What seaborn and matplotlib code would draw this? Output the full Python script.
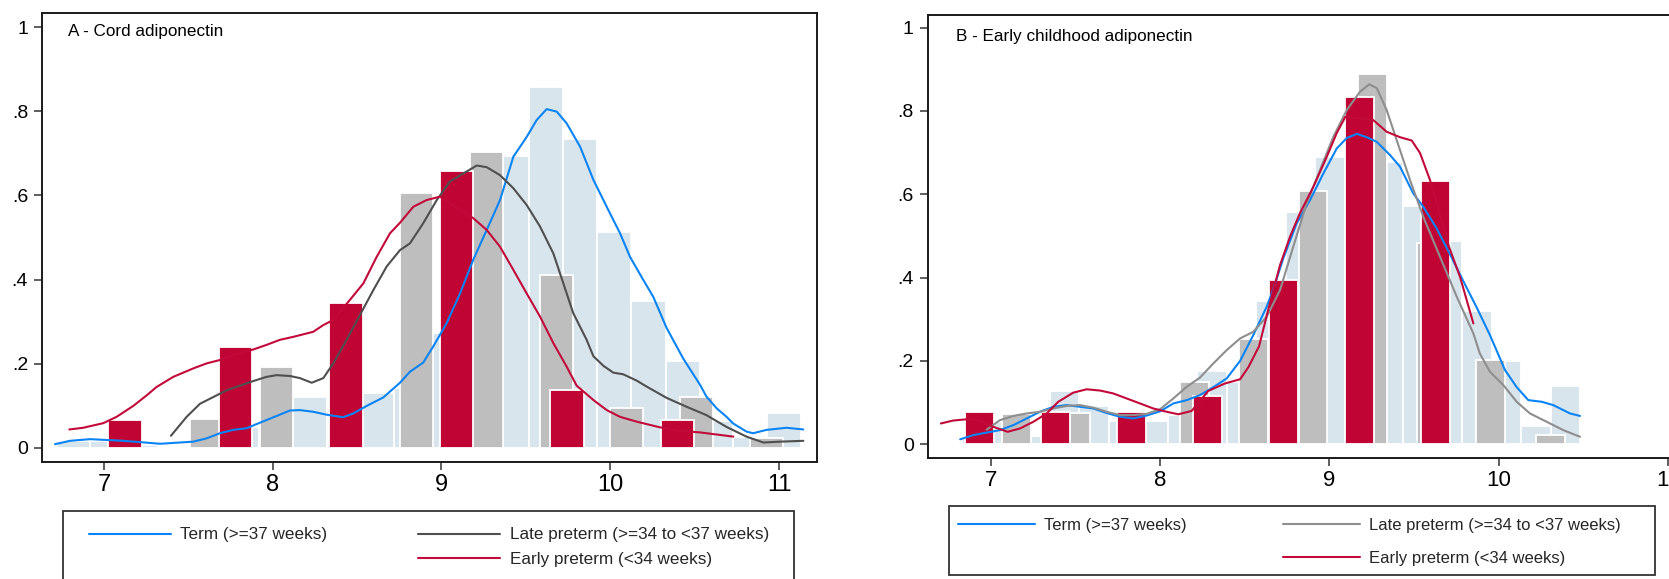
import numpy as np
import pandas as pd
import matplotlib
matplotlib.use("Agg")
import matplotlib.pyplot as plt
from matplotlib.lines import Line2D
from matplotlib.patches import Rectangle
import seaborn as sns

# ---------------------------------------------------------------- data
# Panel A - cord adiponectin: histogram bar centres and densities
a_term_x = [6.82, 7.02, 7.22, 7.42, 7.62, 7.82, 8.02, 8.22, 8.42, 8.62, 8.82,
            9.02, 9.22, 9.42, 9.62, 9.82, 10.02, 10.23, 10.43, 10.63, 10.83, 11.03]
a_term_y = [0.017, 0.017, 0.008, 0.0, 0.03, 0.05, 0.07, 0.122, 0.08, 0.131, 0.142,
            0.274, 0.45, 0.694, 0.857, 0.733, 0.513, 0.35, 0.207, 0.065, 0.025, 0.084]
a_late_x = [7.608, 8.023, 8.438, 8.852, 9.267, 9.682, 10.097, 10.511, 10.926]
a_late_y = [0.07, 0.192, 0.25, 0.605, 0.703, 0.412, 0.094, 0.12, 0.023]
a_early_x = [7.125, 7.78, 8.433, 9.089, 9.743, 10.398]
a_early_y = [0.0665, 0.24, 0.344, 0.658, 0.138, 0.067]

# Panel A kernel density curves
a_kterm_x = [6.71, 6.799, 6.917, 7.016, 7.114, 7.213, 7.332, 7.45, 7.529, 7.609, 7.687,
             7.766, 7.846, 7.924, 8.023, 8.102, 8.161, 8.24, 8.32, 8.418, 8.477, 8.557,
             8.655, 8.754, 8.813, 8.892, 8.951, 9.03, 9.11, 9.188, 9.268, 9.347, 9.426,
             9.505, 9.564, 9.623, 9.683, 9.742, 9.821, 9.9, 9.979, 10.058, 10.117, 10.196,
             10.255, 10.334, 10.433, 10.532, 10.57, 10.631, 10.689, 10.729, 10.807,
             10.846, 10.926, 11.044, 11.144]
a_kterm_y = [0.009, 0.017, 0.021, 0.019, 0.017, 0.014, 0.010, 0.013, 0.015, 0.023, 0.035,
             0.043, 0.047, 0.060, 0.076, 0.089, 0.090, 0.086, 0.079, 0.073, 0.082, 0.100,
             0.120, 0.155, 0.181, 0.203, 0.241, 0.296, 0.367, 0.447, 0.518, 0.589, 0.692,
             0.739, 0.779, 0.805, 0.799, 0.771, 0.716, 0.637, 0.573, 0.510, 0.454, 0.399,
             0.359, 0.285, 0.212, 0.150, 0.122, 0.094, 0.074, 0.058, 0.039,
             0.035, 0.043, 0.048, 0.044]
a_klate_x = [7.397, 7.49, 7.569, 7.648, 7.727, 7.806, 7.885, 7.964, 8.023, 8.102, 8.161,
             8.231, 8.3, 8.359, 8.438, 8.517, 8.596, 8.675, 8.754, 8.813, 8.892, 8.972,
             9.05, 9.129, 9.209, 9.268, 9.347, 9.426, 9.505, 9.584, 9.663, 9.722, 9.781,
             9.86, 9.9, 9.96, 10.018, 10.077, 10.157, 10.215, 10.334, 10.452, 10.57,
             10.689, 10.807, 10.907, 11.006, 11.144]
a_klate_y = [0.029, 0.074, 0.105, 0.121, 0.137, 0.148, 0.159, 0.169, 0.173, 0.171, 0.166,
             0.155, 0.166, 0.201, 0.257, 0.316, 0.375, 0.431, 0.470, 0.486, 0.534, 0.589,
             0.633, 0.652, 0.671, 0.667, 0.648, 0.617, 0.577, 0.526, 0.462, 0.391, 0.320,
             0.257, 0.218, 0.195, 0.179, 0.175, 0.160, 0.146, 0.119, 0.098, 0.078,
             0.050, 0.027, 0.013, 0.015, 0.017]
a_kearly_x = [6.795, 6.877, 6.996, 7.075, 7.174, 7.253, 7.312, 7.411, 7.529, 7.609, 7.687,
              7.766, 7.885, 7.964, 8.043, 8.122, 8.24, 8.3, 8.359, 8.458, 8.537, 8.616,
              8.695, 8.754, 8.833, 8.912, 8.991, 9.188, 9.268, 9.347, 9.426, 9.505, 9.584,
              9.663, 9.742, 9.801, 9.9, 9.979, 10.058, 10.157, 10.295, 10.433, 10.532,
              10.729]
a_kearly_y = [0.044, 0.048, 0.059, 0.074, 0.100, 0.125, 0.145, 0.169, 0.189, 0.201, 0.209,
              0.221, 0.234, 0.245, 0.257, 0.264, 0.276, 0.292, 0.304, 0.352, 0.391, 0.454,
              0.510, 0.535, 0.573, 0.589, 0.597, 0.546, 0.518, 0.478, 0.423, 0.367, 0.312,
              0.249, 0.193, 0.148, 0.114, 0.090, 0.074, 0.0625, 0.049, 0.040, 0.037,
              0.027]

# Panel B - early childhood adiponectin: histogram bar centres and densities
b_term_x = [6.915, 7.089, 7.263, 7.437, 7.611, 7.785, 7.959, 8.133, 8.307, 8.481, 8.655,
            8.829, 9.003, 9.177, 9.351, 9.525, 9.699, 9.873, 10.047, 10.221, 10.395]
b_term_y = [0.015, 0.054, 0.02, 0.128, 0.093, 0.057, 0.057, 0.07, 0.176, 0.15, 0.345,
            0.558, 0.69, 0.75, 0.678, 0.572, 0.487, 0.32, 0.2, 0.044, 0.14]
b_late_x = [7.152, 7.502, 7.853, 8.203, 8.553, 8.904, 9.254, 9.604, 9.954, 10.305]
b_late_y = [0.073, 0.074, 0.0, 0.15, 0.252, 0.609, 0.889, 0.484, 0.202, 0.022]
b_early_x = [6.933, 7.382, 7.831, 8.28, 8.729, 9.178, 9.627]
b_early_y = [0.077, 0.077, 0.077, 0.117, 0.394, 0.833, 0.633]

# Panel B kernel density curves
b_kterm_x = [6.82, 6.897, 6.976, 7.055, 7.134, 7.213, 7.291, 7.37, 7.449, 7.527, 7.606,
             7.685, 7.764, 7.842, 7.921, 8.0, 8.079, 8.158, 8.236, 8.315, 8.394, 8.473,
             8.551, 8.63, 8.669, 8.728, 8.807, 8.886, 8.965, 9.044, 9.103, 9.162, 9.221,
             9.28, 9.359, 9.418, 9.496, 9.555, 9.634, 9.713, 9.791, 9.871, 9.949, 10.038,
             10.107, 10.175, 10.255, 10.323, 10.422, 10.481]
b_kterm_y = [0.012, 0.022, 0.028, 0.034, 0.046, 0.062, 0.078, 0.090, 0.094, 0.090, 0.086,
             0.075, 0.066, 0.062, 0.069, 0.079, 0.098, 0.106, 0.118, 0.137, 0.158, 0.200,
             0.262, 0.330, 0.372, 0.446, 0.530, 0.586, 0.650, 0.710, 0.735, 0.745, 0.737,
             0.726, 0.694, 0.666, 0.602, 0.570, 0.518, 0.456, 0.392, 0.328, 0.262, 0.178,
             0.137, 0.106, 0.102, 0.094, 0.074, 0.068]
b_klate_x = [6.976, 7.055, 7.134, 7.213, 7.291, 7.37, 7.449, 7.527, 7.606, 7.685, 7.764,
             7.842, 7.921, 8.0, 8.079, 8.158, 8.236, 8.315, 8.394, 8.473, 8.551, 8.63,
             8.709, 8.787, 8.867, 8.945, 9.024, 9.103, 9.181, 9.236, 9.28, 9.339, 9.398,
             9.477, 9.555, 9.654, 9.753, 9.851, 9.889, 9.949, 10.028, 10.107, 10.185,
             10.284, 10.382, 10.481]
b_klate_y = [0.035, 0.058, 0.068, 0.074, 0.078, 0.086, 0.092, 0.094, 0.088, 0.078, 0.070,
             0.070, 0.073, 0.084, 0.110, 0.138, 0.160, 0.194, 0.226, 0.254, 0.270, 0.306,
             0.370, 0.474, 0.579, 0.658, 0.738, 0.802, 0.846, 0.864, 0.855, 0.802, 0.730,
             0.634, 0.546, 0.450, 0.354, 0.266, 0.218, 0.174, 0.142, 0.102, 0.074,
             0.054, 0.034, 0.018]
b_kearly_x = [6.706, 6.779, 6.858, 6.937, 7.015, 7.1, 7.173, 7.252, 7.331, 7.399, 7.488,
              7.567, 7.646, 7.724, 7.803, 7.882, 7.96, 8.04, 8.108, 8.187, 8.285, 8.384,
              8.473, 8.522, 8.585, 8.65, 8.709, 8.768, 8.827, 8.906, 8.985, 9.044, 9.095,
              9.26, 9.339, 9.418, 9.487, 9.536, 9.595, 9.707, 9.772, 9.851]
b_kearly_y = [0.050, 0.057, 0.060, 0.057, 0.042, 0.030, 0.038, 0.054, 0.074, 0.102, 0.124,
              0.132, 0.129, 0.122, 0.110, 0.098, 0.086, 0.078, 0.072, 0.080, 0.128, 0.146,
              0.156, 0.185, 0.235, 0.340, 0.430, 0.498, 0.555, 0.618, 0.690, 0.747, 0.786,
              0.778, 0.750, 0.737, 0.729, 0.699, 0.634, 0.474, 0.402, 0.290]

x_ticks = [7, 8, 9, 10, 11]
x_ticklabels = ["7", "8", "9", "10", "11"]
y_ticks = [0, 0.2, 0.4, 0.6, 0.8, 1.0]
y_ticklabels = ["0", ".2", ".4", ".6", ".8", "1"]

titles = ["A - Cord adiponectin", "B - Early childhood adiponectin"]
legend_labels = ["Term (>=37 weeks)", "Late preterm (>=34 to <37 weeks)",
                 "Early preterm (<34 weeks)"]

# ---------------------------------------------------------------- style
sns.set_theme(style="white")
plt.rcParams["font.family"] = ["Liberation Sans", "DejaVu Sans"]

C_TERM_BAR = "#d8e5ec"
C_LATE_BAR = "#bebebe"
C_EARLY_BAR = "#c00535"
C_TERM_LINE = "#0a84f5"
C_EARLY_LINE = "#c20a3a"
C_LATE_LINE_A = "#4f4f4f"
C_LATE_LINE_B = "#8e8e8e"

W, H = 1669, 579
fig = plt.figure(figsize=(W / 100, H / 100), dpi=100)
fig.patch.set_facecolor("white")

axA = fig.add_axes([42 / W, 1 - 462 / H, 775 / W, 449 / H])
axB = fig.add_axes([927.7 / W, 1 - 457.7 / H, (1706 - 927.7) / W, 443 / H])


def edges(c):
    c = np.asarray(c, dtype=float)
    s = c[1] - c[0]
    e = np.r_[c[0] - s / 2, (c[1:] + c[:-1]) / 2, c[-1] + s / 2]
    return [float(v) for v in e]


def bars(ax, xs, ys, color, barw):
    df = pd.DataFrame({"x": xs, "w": ys})
    s = float(xs[1] - xs[0])
    sns.histplot(data=df, x="x", weights="w", bins=edges(xs), stat="count",
                 shrink=min(1.0, barw / s), color=color, alpha=1,
                 edgecolor="white", linewidth=1.3, ax=ax)


def curve(ax, xs, ys, color):
    df = pd.DataFrame({"x": xs, "y": ys})
    sns.lineplot(data=df, x="x", y="y", color=color, linewidth=1.5,
                 estimator=None, sort=False, ax=ax)


# Panel A
bars(axA, a_term_x, a_term_y, C_TERM_BAR, 1.0)
bars(axA, a_late_x, a_late_y, C_LATE_BAR, 0.2)
bars(axA, a_early_x, a_early_y, C_EARLY_BAR, 0.2)
curve(axA, a_kterm_x, a_kterm_y, C_TERM_LINE)
curve(axA, a_klate_x, a_klate_y, C_LATE_LINE_A)
curve(axA, a_kearly_x, a_kearly_y, C_EARLY_LINE)

# Panel B
bars(axB, b_term_x, b_term_y, C_TERM_BAR, 1.0)
bars(axB, b_late_x, b_late_y, C_LATE_BAR, 0.17)
bars(axB, b_early_x, b_early_y, C_EARLY_BAR, 0.17)
curve(axB, b_kterm_x, b_kterm_y, C_TERM_LINE)
curve(axB, b_klate_x, b_klate_y, C_LATE_LINE_B)
curve(axB, b_kearly_x, b_kearly_y, C_EARLY_LINE)

axA.set_xlim(6.633, 11.225)
axA.set_ylim(-0.0333, 1.0333)
axB.set_xlim(6.628, 11.225)
axB.set_ylim(-0.0322, 1.031)

for ax, xfs, title, tx, ty in [(axA, 17, titles[0], 0.0335, 0.9577),
                               (axB, 16, titles[1], 0.036, 0.9497)]:
    ax.set_xlabel("")
    ax.set_ylabel("")
    ax.set_xticks(x_ticks)
    ax.set_xticklabels(x_ticklabels, fontsize=xfs)
    ax.set_yticks(y_ticks)
    ax.set_yticklabels(y_ticklabels, fontsize=14)
    ax.tick_params(axis="both", which="major", bottom=True, left=True,
                   top=False, right=False, direction="out", length=6,
                   width=1.1, color="#333333", labelcolor="black", pad=4)
    ax.tick_params(axis="x", pad=2.5)
    for sp in ax.spines.values():
        sp.set_visible(True)
        sp.set_color("#1a1a1a")
        sp.set_linewidth(1.4)
    ax.grid(False)
    ax.text(tx, ty, title, transform=ax.transAxes, ha="left", va="center",
            fontsize=12.3, color="black")

# ---------------------------------------------------------------- legends
def make_legend(late_color, x0, x1, y_top, fs, hl, ls, frame):
    handles = [Line2D([], [], color=C_TERM_LINE, lw=1.5),
               Line2D([], [], linestyle="none"),
               Line2D([], [], color=late_color, lw=1.5),
               Line2D([], [], color=C_EARLY_LINE, lw=1.5)]
    labels = [legend_labels[0], " ", legend_labels[1], legend_labels[2]]
    fig.legend(handles, labels, ncol=2, loc="upper left",
               bbox_to_anchor=(x0 / W, 1 - y_top / H, (x1 - x0) / W, 0),
               bbox_transform=fig.transFigure, mode="expand", frameon=False,
               borderpad=0, borderaxespad=0, handlelength=hl,
               handletextpad=0.55, labelspacing=ls, fontsize=fs)
    fx0, fy0, fx1, fy1 = frame
    fig.patches.append(Rectangle((fx0 / W, 1 - fy1 / H), (fx1 - fx0) / W,
                                 (fy1 - fy0) / H, transform=fig.transFigure,
                                 fill=False, edgecolor="#333333", lw=1.3))


make_legend(C_LATE_LINE_A, 89, 769, 527.5, 12.3, 4.8, 0.58, (63, 510.7, 794, 584))
make_legend(C_LATE_LINE_B, 958, 1621, 518, 12.0, 4.6, 1.06, (949, 505.7, 1655, 575))

fig.savefig("out.png", dpi=100, facecolor="white")
